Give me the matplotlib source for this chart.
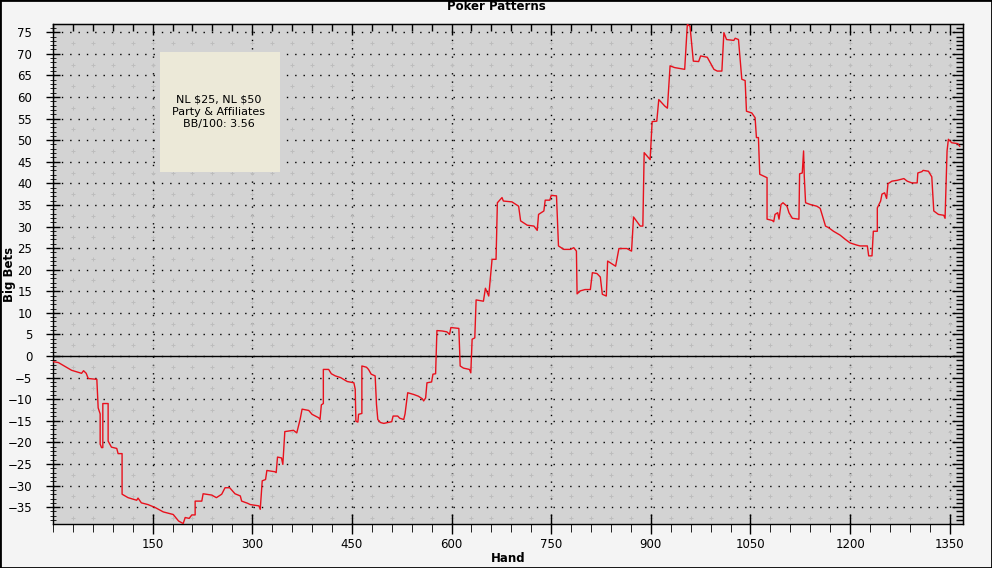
"""Poker Patterns cumulative big bets chart."""

import matplotlib

matplotlib.use("Agg")
import matplotlib.pyplot as plt
from matplotlib.patches import Rectangle
from matplotlib.ticker import MultipleLocator, NullFormatter
import numpy as np

# hand number and cumulative big bets (pairs at the same hand = a jump)
hands = [0, 8, 28, 43, 46, 50, 53, 66, 68, 71, 71, 73, 75, 75, 83, 83, 88, 96, 98, 104,
         104, 113, 126, 128, 133, 143, 154, 166, 181, 189, 196, 199, 205, 209, 214, 214,
         224, 226, 239, 246, 254, 259, 266, 274, 282, 284, 293, 297, 310, 312, 315, 320,
         322, 334, 336, 338, 344, 346, 349, 362, 367, 372, 375, 385, 390, 400, 402, 404,
         407, 407, 415, 419, 425, 433, 443, 453, 455, 456, 459, 460, 465, 465, 472, 475,
         479, 485, 487, 489, 493, 498, 510, 512, 519, 522, 528, 530, 534, 543, 550, 556,
         558, 561, 563, 570, 572, 576, 578, 586, 593, 597, 599, 611, 613, 618, 627, 629,
         631, 635, 637, 648, 651, 656, 661, 667, 669, 676, 678, 691, 701, 704, 714, 724,
         729, 731, 739, 741, 748, 750, 758, 761, 769, 779, 784, 788, 789, 794, 801, 809,
         812, 819, 824, 827, 833, 835, 847, 849, 852, 864, 871, 874, 884, 888, 890, 899,
         902, 909, 912, 921, 925, 929, 936, 951, 955, 959, 964, 972, 975, 985, 995, 1000,
         1007, 1010, 1014, 1025, 1027, 1032, 1037, 1042, 1044, 1052, 1057, 1059, 1062,
         1064, 1072, 1075, 1075, 1083, 1085, 1087, 1091, 1093, 1096, 1099, 1105, 1108,
         1113, 1123, 1124, 1128, 1130, 1131, 1133, 1140, 1150, 1155, 1163, 1168, 1175,
         1185, 1193, 1200, 1210, 1215, 1226, 1228, 1233, 1235, 1241, 1241, 1246, 1248,
         1252, 1255, 1257, 1263, 1271, 1281, 1286, 1293, 1301, 1302, 1308, 1310, 1318,
         1323, 1326, 1333, 1341, 1343, 1346, 1348, 1353, 1362, 1365]
big_bets = [-1.3, -1.5, -3.3, -4.0, -3.4, -4.0, -5.2, -5.4, -12.0, -13.4, -20.4, -21.2,
            -21.2, -11.0, -11.0, -19.7, -21.1, -21.4, -22.6, -22.6, -32.0, -32.8, -33.4,
            -32.9, -34.0, -34.4, -35.1, -36.1, -36.7, -38.2, -38.8, -37.4, -37.6, -36.8,
            -36.8, -33.6, -33.6, -31.9, -32.2, -32.8, -32.0, -30.5, -30.5, -31.9, -32.4,
            -33.6, -34.1, -34.4, -34.7, -35.5, -28.9, -28.6, -26.5, -26.8, -27.0, -23.4,
            -23.6, -25.1, -17.5, -17.2, -17.8, -14.7, -12.3, -12.6, -13.5, -14.3, -14.7,
            -11.3, -11.0, -3.1, -3.1, -4.1, -4.6, -5.0, -5.9, -6.2, -7.7, -15.1, -15.3,
            -13.5, -13.3, -2.3, -2.6, -3.1, -4.2, -4.6, -11.2, -14.7, -15.4, -15.6, -15.2,
            -13.9, -13.9, -14.4, -14.7, -13.4, -8.5, -8.9, -9.3, -9.9, -10.4, -9.7, -6.2,
            -6.0, -4.2, -4.1, 5.9, 5.8, 5.6, 5.0, 6.6, 6.4, -2.3, -2.8, -3.1, -3.9, 3.9,
            4.2, 13.0, 12.7, 15.7, 13.9, 22.4, 22.4, 35.5, 36.7, 35.9, 35.7, 34.7, 31.3,
            30.3, 30.1, 29.1, 32.8, 33.6, 36.1, 36.1, 37.2, 37.1, 25.5, 24.7, 24.7, 25.1,
            24.3, 14.4, 15.1, 15.4, 15.4, 19.3, 19.1, 18.3, 14.3, 13.9, 22.0, 20.8, 22.4,
            24.9, 24.9, 24.3, 32.2, 30.1, 30.1, 47.1, 45.5, 54.3, 54.4, 59.4, 57.9, 57.4,
            67.2, 66.8, 66.4, 76.8, 76.4, 68.3, 68.2, 69.5, 69.2, 66.4, 66.0, 66.0, 74.9,
            73.3, 73.1, 73.6, 73.3, 64.1, 63.8, 56.7, 56.3, 55.2, 50.6, 50.6, 42.1, 41.5,
            41.3, 31.7, 31.4, 31.1, 32.8, 33.2, 31.7, 35.1, 35.5, 34.7, 33.2, 31.9, 31.7,
            42.2, 42.4, 47.5, 41.7, 35.5, 35.1, 34.7, 34.2, 30.1, 29.7, 28.9, 28.0, 27.0,
            26.2, 25.7, 25.5, 25.5, 23.2, 23.2, 28.9, 28.9, 34.3, 35.9, 37.5, 37.8, 36.5,
            39.9, 40.5, 40.7, 41.1, 40.5, 40.1, 40.1, 42.4, 42.7, 43.0, 42.8, 41.5, 33.6,
            32.8, 32.6, 31.9, 47.5, 50.2, 49.4, 49.2, 48.6]

title = "Poker Patterns"
note_lines = ["NL $25, NL $50", "Party & Affiliates", "BB/100: 3.56"]
x_ticks = [150, 300, 450, 600, 750, 900, 1050, 1200, 1350]
y_ticks = list(range(-35, 80, 5))

plt.rcParams["font.family"] = ["DejaVu Sans"]
plt.rcParams["text.parse_math"] = False
fig = plt.figure(figsize=(9.92, 5.68), dpi=100, facecolor="#f4f4f4")
ax = fig.add_axes([53 / 992, 44 / 568, 910 / 992, 500 / 568], facecolor="#d3d3d3")
ax.set_xlim(0, 1370)
ax.set_ylim(-38.9, 76.9)

# background grid: dotted major lines + faint crosses
for x in x_ticks:
    ax.axvline(x, color="black", lw=1, ls=(0, (1, 5)), zorder=1)
for y in y_ticks:
    ax.axhline(y, color="black", lw=1, ls=(0, (1, 5)), zorder=1)
cx, cy = np.meshgrid(np.arange(30, 1370, 30), np.arange(-37.5, 77, 5))
ax.plot(cx.ravel(), cy.ravel(), "+", color="#bdbdbd", ms=3, mew=0.7, zorder=1)
ax.axhline(0, color="black", lw=1, zorder=2)

ax.plot(hands, big_bets, color="#e8101c", lw=1.0, zorder=3)

ax.set_xticks(x_ticks)
ax.set_yticks(y_ticks)
ax.xaxis.set_minor_locator(MultipleLocator(30))
ax.yaxis.set_minor_locator(MultipleLocator(1))
ax.tick_params(axis="both", which="major", labelsize=8.5, colors="black", width=1)
ax.tick_params(axis="x", which="major", direction="inout", length=14, pad=3)
ax.tick_params(axis="x", which="minor", direction="out", length=6)
ax.tick_params(axis="y", which="major", direction="inout", length=10, pad=10)
ax.tick_params(axis="y", which="minor", direction="inout", length=5)
for side in ax.spines.values():
    side.set_color("black")
    side.set_linewidth(1)

# top and right ticks point inward
top = ax.secondary_xaxis("top")
top.set_xticks(x_ticks)
top.xaxis.set_minor_locator(MultipleLocator(30))
top.xaxis.set_major_formatter(NullFormatter())
top.tick_params(which="major", direction="in", length=8, width=1)
top.tick_params(which="minor", direction="in", length=5, width=1)
right = ax.secondary_yaxis("right")
right.set_yticks(y_ticks)
right.yaxis.set_minor_locator(MultipleLocator(1))
right.yaxis.set_major_formatter(NullFormatter())
right.tick_params(which="major", direction="in", length=8, width=1)
right.tick_params(which="minor", direction="in", length=5, width=1)

fig.text(0.5, 1 - 7 / 568, title, ha="center", va="center", fontsize=8.5, fontweight="bold")
fig.text(508 / 992, 1 - 559 / 568, "Hand", ha="center", va="center", fontsize=8.5, fontweight="bold")
fig.text(10 / 992, 1 - 274 / 568, "Big Bets", ha="center", va="center", rotation=90,
         fontsize=8.5, fontweight="bold")

fig.patches.append(Rectangle((160 / 992, 1 - 172 / 568), 120 / 992, 120 / 568,
                             transform=fig.transFigure, facecolor="#ece9d8", edgecolor="none", zorder=4))
fig.text(219 / 992, 1 - 112 / 568, "\n".join(note_lines), ha="center", va="center",
         fontsize=8, linespacing=1.25, zorder=5)
fig.patches.append(Rectangle((0, 0), 1, 1, transform=fig.transFigure, fill=False,
                             edgecolor="black", linewidth=2))

fig.savefig("out.png", dpi=100, facecolor=fig.get_facecolor())
